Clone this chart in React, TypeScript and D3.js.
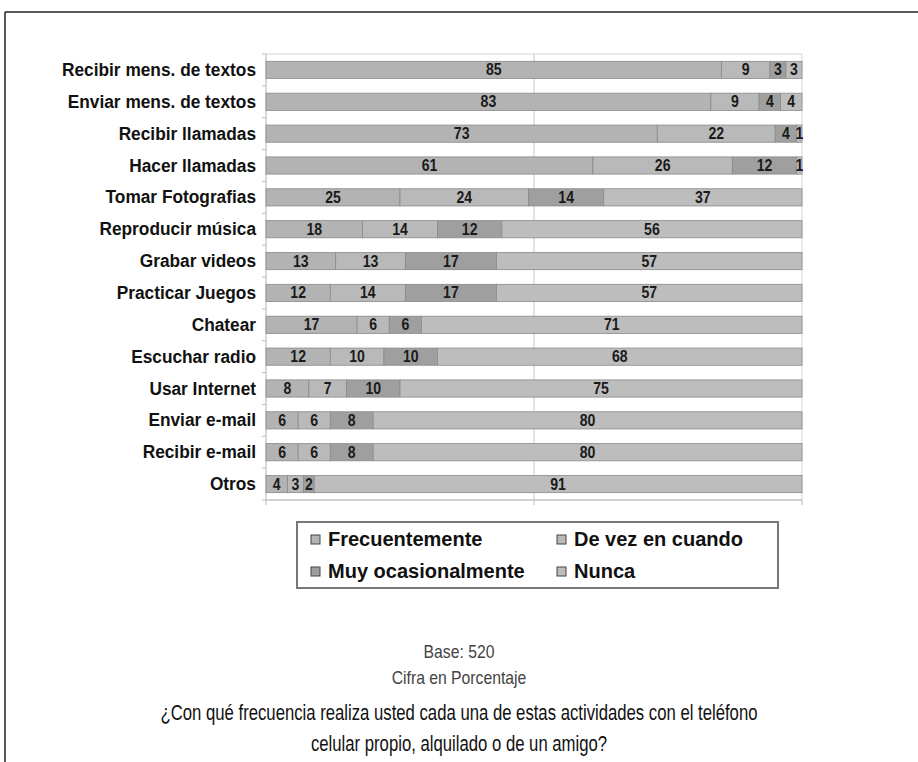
import React from "react";
import * as d3 from "d3";

const categories = [
  "Recibir mens. de textos",
  "Enviar mens. de textos",
  "Recibir llamadas",
  "Hacer llamadas",
  "Tomar Fotografias",
  "Reproducir música",
  "Grabar videos",
  "Practicar Juegos",
  "Chatear",
  "Escuchar radio",
  "Usar Internet",
  "Enviar e-mail",
  "Recibir e-mail",
  "Otros",
];

const seriesNames = ["Frecuentemente", "De vez en cuando", "Muy ocasionalmente", "Nunca"];

const frecuentemente = [85, 83, 73, 61, 25, 18, 13, 12, 17, 12, 8, 6, 6, 4];
const deVezEnCuando = [9, 9, 22, 26, 24, 14, 13, 14, 6, 10, 7, 6, 6, 3];
const muyOcasionalmente = [3, 4, 4, 12, 14, 12, 17, 17, 6, 10, 10, 8, 8, 2];
const nunca = [3, 4, 1, 1, 37, 56, 57, 57, 71, 68, 75, 80, 80, 91];

const xTicks = [0, 50, 100];

const seriesColors = ["#b3b3b3", "#b9b9b9", "#9f9f9f", "#bdbdbd"];

const W = 918;
const H = 762;
const plot = { left: 266, right: 802, top: 54, bottom: 500 };

// Condensed text: regular sans squeezed horizontally around its anchor point
function Narrow(props: {
  x: number;
  y: number;
  sx: number;
  size: number;
  anchor: "start" | "middle" | "end";
  weight?: string;
  fill: string;
  children: React.ReactNode;
}) {
  return (
    <text
      transform={`translate(${props.x},${props.y}) scale(${props.sx},1)`}
      textAnchor={props.anchor}
      fontFamily="'Liberation Sans', Arial, sans-serif"
      fontWeight={props.weight || "normal"}
      fontSize={props.size}
      fill={props.fill}
    >
      {props.children}
    </text>
  );
}

export default function App() {
  const x = d3.scaleLinear().domain([0, 100]).range([plot.left, plot.right]);
  const y = d3
    .scaleBand<string>()
    .domain(categories)
    .range([plot.top, plot.bottom])
    .paddingInner(0.46)
    .paddingOuter(0.23);

  const rows = categories.map((c, i) => ({
    cat: c,
    values: [frecuentemente[i], deVezEnCuando[i], muyOcasionalmente[i], nunca[i]],
  }));
  const stack = d3
    .stack<{ cat: string; values: number[] }, number>()
    .keys([0, 1, 2, 3])
    .value((d, k) => d.values[k]);
  const stacked = stack(rows);

  const band = y.bandwidth();
  const boundaries = d3
    .range(categories.length + 1)
    .map((i) => plot.top + (i * (plot.bottom - plot.top)) / categories.length);

  const sans = "'Liberation Sans', Arial, sans-serif";

  return (
    <svg
      width={W}
      height={H}
      style={{ position: "absolute", left: 0, top: 0, background: "#fff" }}
    >
      {/* outer frame */}
      <line x1={5} y1={12} x2={W} y2={12} stroke="#222" strokeWidth={1.5} />
      <line x1={5} y1={12} x2={5} y2={H} stroke="#222" strokeWidth={1.5} />

      {/* plot area border */}
      <rect
        x={plot.left}
        y={plot.top}
        width={plot.right - plot.left}
        height={plot.bottom - plot.top}
        fill="none"
        stroke="#d6d6d6"
        strokeWidth={1}
      />
      {/* gridline at 50% */}
      <line x1={x(50)} x2={x(50)} y1={plot.top} y2={plot.bottom} stroke="#cfcfcf" strokeWidth={1.2} />

      {/* category axis ticks */}
      {boundaries.map((b, i) => (
        <line key={"yt" + i} x1={plot.left - 4} x2={plot.left} y1={b} y2={b} stroke="#bbb" />
      ))}
      <line x1={plot.left} x2={plot.left} y1={plot.top} y2={plot.bottom} stroke="#c8c8c8" />
      {/* value axis */}
      <line x1={plot.left} x2={plot.right} y1={plot.bottom} y2={plot.bottom} stroke="#bbb" strokeWidth={1.2} />
      {xTicks.map((t) => (
        <line key={"xt" + t} x1={x(t)} x2={x(t)} y1={plot.bottom} y2={plot.bottom + 5} stroke="#bbb" />
      ))}

      {/* bars */}
      {stacked.map((s, si) =>
        s.map((d, i) => {
          const x0 = x(d[0]);
          const x1 = x(d[1]);
          const yy = y(categories[i]) as number;
          return (
            <rect
              key={`b${si}-${i}`}
              x={x0}
              y={yy}
              width={Math.max(0, x1 - x0)}
              height={band}
              fill={seriesColors[si]}
              stroke="#8a8a8a"
              strokeWidth={0.8}
            />
          );
        })
      )}

      {/* value labels */}
      {stacked.map((s, si) =>
        s.map((d, i) => {
          const v = d[1] - d[0];
          const cx = (x(d[0]) + x(d[1])) / 2;
          const yy = (y(categories[i]) as number) + band / 2;
          return (
            <Narrow
              key={`l${si}-${i}`}
              x={cx}
              y={yy + 5.5}
              sx={0.88}
              size={16}
              anchor="middle"
              weight="bold"
              fill="#1a1a1a"
            >
              {v}
            </Narrow>
          );
        })
      )}

      {/* category labels */}
      {categories.map((c) => (
        <Narrow
          key={"c" + c}
          x={plot.left - 10}
          y={(y(c) as number) + band / 2 + 6}
          sx={0.91}
          size={19}
          anchor="end"
          weight="bold"
          fill="#111"
        >
          {c}
        </Narrow>
      ))}

      {/* legend */}
      <rect x={297} y={522} width={481} height={66} fill="#fff" stroke="#777" strokeWidth={2} />
      {seriesNames.map((n, i) => {
        const col = i % 2;
        const row = Math.floor(i / 2);
        const sx = col === 0 ? 311 : 557;
        const sy = row === 0 ? 535 : 567;
        return (
          <g key={"lg" + n}>
            <rect x={sx} y={sy} width={9} height={9} fill={seriesColors[i]} stroke="#444" strokeWidth={1} />
            <text
              x={sx + 17}
              y={sy + 11}
              fontFamily={sans}
              fontWeight="bold"
              fontSize={20}
              fill="#111"
            >
              {n}
            </text>
          </g>
        );
      })}

      {/* notes */}
      <Narrow x={459} y={658} sx={0.9} size={17.5} anchor="middle" fill="#444">
        Base: 520
      </Narrow>
      <Narrow x={459} y={684} sx={0.9} size={17.5} anchor="middle" fill="#444">
        Cifra en Porcentaje
      </Narrow>

      {/* question */}
      <Narrow x={459} y={720} sx={0.76} size={22} anchor="middle" fill="#111">
        ¿Con qué frecuencia realiza usted cada una de estas actividades con el teléfono
      </Narrow>
      <Narrow x={459} y={751} sx={0.76} size={22} anchor="middle" fill="#111">
        celular propio, alquilado o de un amigo?
      </Narrow>
    </svg>
  );
}
